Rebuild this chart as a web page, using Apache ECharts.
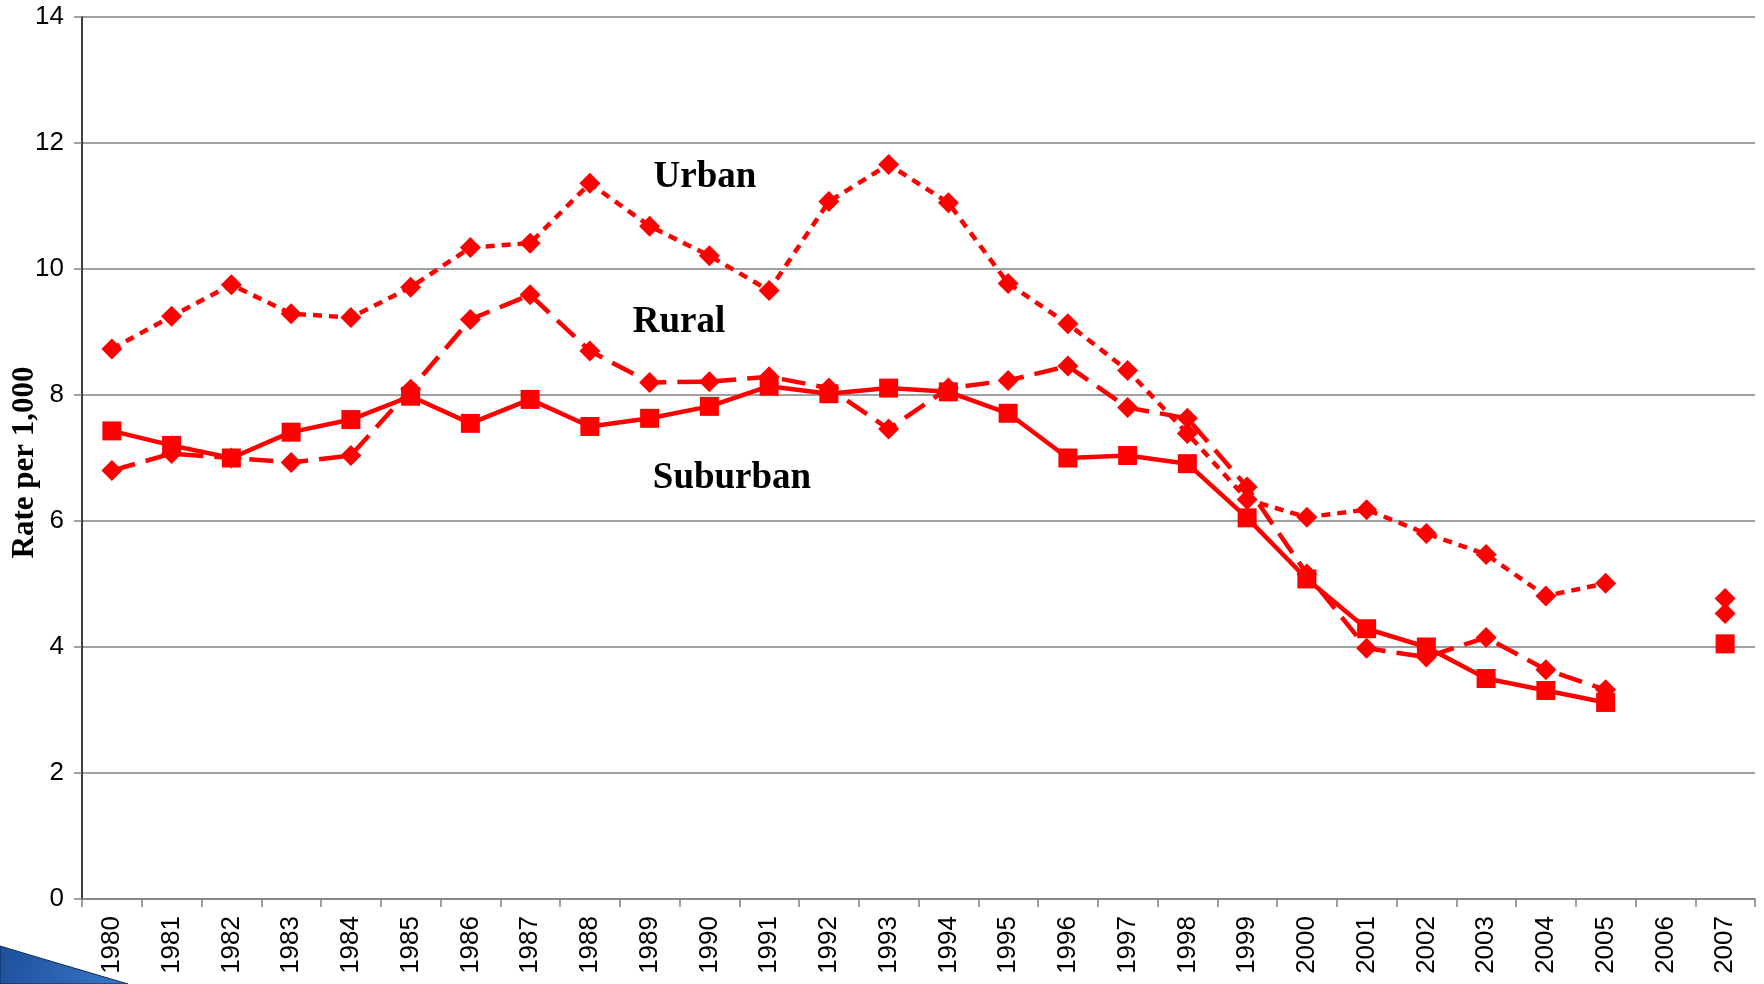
<!DOCTYPE html>
<html>
<head>
<meta charset="utf-8">
<script src="https://cdn.jsdelivr.net/npm/echarts@6/dist/echarts.min.js"></script>
<style>
  html, body { margin: 0; padding: 0; background: #fff; }
  #chart_box { width: 1764px; height: 984px; }
</style>
</head>
<body>
<div id="chart_box"></div>
<script>
// years on the x axis (2006 has no data)
var years = ["1980", "1981", "1982", "1983", "1984", "1985", "1986", "1987", "1988", "1989",
  "1990", "1991", "1992", "1993", "1994", "1995", "1996", "1997", "1998", "1999",
  "2000", "2001", "2002", "2003", "2004", "2005", "2006", "2007"];

// rate per 1,000
var urban = [8.73, 9.25, 9.75, 9.29, 9.23, 9.71, 10.34, 10.41, 11.36, 10.68,
  10.21, 9.66, 11.07, 11.66, 11.05, 9.77, 9.13, 8.39, 7.39, 6.34,
  6.06, 6.18, 5.80, 5.47, 4.81, 5.01, null, 4.77];
var rural = [6.80, 7.07, 7.00, 6.93, 7.04, 8.09, 9.20, 9.59, 8.70, 8.20,
  8.21, 8.29, 8.11, 7.46, 8.11, 8.23, 8.46, 7.80, 7.63, 6.54,
  5.16, 3.98, 3.84, 4.15, 3.64, 3.32, null, 4.53];
var suburban = [7.43, 7.20, 7.00, 7.41, 7.61, 7.98, 7.55, 7.93, 7.50, 7.63,
  7.82, 8.14, 8.02, 8.11, 8.05, 7.71, 7.00, 7.04, 6.91, 6.05,
  5.08, 4.29, 4.00, 3.50, 3.31, 3.12, null, 4.05];

var red = "#ff0000";
var serif = "bold 37px 'Liberation Serif', 'Times New Roman'";
var myecharts = echarts.init(document.getElementById("chart_box"));

var option = {
  animation: false,
  backgroundColor: "#fff",
  grid: { left: 82, right: 9, top: 17, bottom: 85, outerBoundsMode: "none" },
  xAxis: {
    type: "category",
    data: years,
    boundaryGap: true,
    axisLine: { lineStyle: { color: "#808080", width: 1.5 } },
    axisTick: { show: true, length: 8, lineStyle: { color: "#808080", width: 1.5 } },
    axisLabel: {
      interval: 0,
      rotate: 90,
      margin: 17,
      color: "#000",
      fontFamily: "Liberation Sans, Arial",
      fontSize: 26
    },
    splitLine: { show: false }
  },
  yAxis: {
    type: "value",
    min: 0,
    max: 14,
    interval: 2,
    name: "Rate per 1,000",
    nameLocation: "middle",
    nameGap: 42,
    nameMoveOverlap: false,
    nameTextStyle: {
      color: "#000",
      fontFamily: "Liberation Serif, Times New Roman",
      fontWeight: "bold",
      fontSize: 31,
      padding: [0, 9, 0, 0]
    },
    axisLine: { show: true, lineStyle: { color: "#000", width: 1.5 } },
    axisTick: { show: true, length: 8, lineStyle: { color: "#808080", width: 1.5 } },
    axisLabel: {
      margin: 18,
      color: "#000",
      fontFamily: "Liberation Sans, Arial",
      fontSize: 26
    },
    splitLine: { lineStyle: { color: "#808080", width: 1.5 } }
  },
  series: [
    {
      name: "Urban",
      type: "line",
      data: urban,
      symbol: "diamond",
      symbolSize: [21, 21],
      lineStyle: { color: red, width: 4.5, type: [9, 7] },
      itemStyle: { color: red },
      z: 3
    },
    {
      name: "Rural",
      type: "line",
      data: rural,
      symbol: "diamond",
      symbolSize: [21, 21],
      lineStyle: { color: red, width: 4.5, type: [24, 11] },
      itemStyle: { color: red },
      z: 4
    },
    {
      name: "Suburban",
      type: "line",
      data: suburban,
      symbol: "rect",
      symbolSize: [19, 19],
      lineStyle: { color: red, width: 4.5 },
      itemStyle: { color: red },
      z: 5
    }
  ],
  graphic: [
    {
      type: "text",
      x: 705, y: 177,
      style: { text: "Urban", fill: "#000", font: serif, textAlign: "center", textVerticalAlign: "middle" }
    },
    {
      type: "text",
      x: 679, y: 322,
      style: { text: "Rural", fill: "#000", font: serif, textAlign: "center", textVerticalAlign: "middle" }
    },
    {
      type: "text",
      x: 732, y: 478,
      style: { text: "Suburban", fill: "#000", font: serif, textAlign: "center", textVerticalAlign: "middle" }
    },
    //左下角蓝色装饰
    {
      type: "polygon",
      shape: { points: [[0, 946], [40, 958], [128, 984], [0, 984]] },
      style: {
        fill: new echarts.graphic.LinearGradient(0, 0, 1, 1, [
          { offset: 0, color: "#1d4f9c" },
          { offset: 1, color: "#3a78c8" }
        ]),
        stroke: "#0d2a5a",
        lineWidth: 1
      },
      z: 10
    }
  ]
};
myecharts.setOption(option);
</script>
</body>
</html>
